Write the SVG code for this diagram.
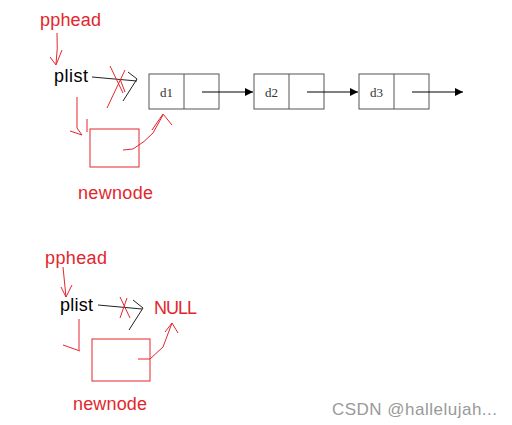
<svg xmlns="http://www.w3.org/2000/svg" width="512" height="425" viewBox="0 0 512 425">
<defs>
<marker id="ah" viewBox="0 0 10 10" refX="10" refY="5" markerWidth="10" markerHeight="8" markerUnits="userSpaceOnUse" orient="auto"><path d="M0,0 L10,5 L0,10 z" fill="#000"/></marker>
</defs>
<style>
.red{font-family:"Liberation Sans",Arial,sans-serif;font-size:18px;fill:#e3262d}
.blk{font-family:"Liberation Sans",Arial,sans-serif;font-size:18px;fill:#000}
.d{font-family:"Liberation Serif","DejaVu Serif",serif;font-size:13px;fill:#333}
.box{fill:#fff;stroke:#555;stroke-width:1}
.rl{fill:none;stroke:#e3262d;stroke-width:1}
.bl{fill:none;stroke:#222;stroke-width:1}
.wm{font-family:"Liberation Sans",Arial,sans-serif;font-size:17px;fill:#999}
</style>
<rect width="512" height="425" fill="#fff"/>
<g id="pphead1"><text class="red" x="40" y="26" textLength="61">pphead</text></g>
<g id="plist1"><text class="blk" x="54" y="82" textLength="34">plist</text></g>
<g id="newnode1"><rect class="rl" x="90" y="129" width="49" height="38"/><text class="red" x="78" y="199" textLength="75">newnode</text></g>
<g id="d1"><rect class="box" x="149" y="74" width="70" height="35"/><line class="box" x1="184" y1="74" x2="184" y2="109"/><text class="d" x="160" y="97">d1</text></g>
<g id="d2"><rect class="box" x="254" y="74" width="70" height="35"/><line class="box" x1="289" y1="74" x2="289" y2="109"/><text class="d" x="265" y="97">d2</text></g>
<g id="d3"><rect class="box" x="359" y="74" width="70" height="35"/><line class="box" x1="394" y1="74" x2="394" y2="109"/><text class="d" x="370" y="97">d3</text></g>
<g id="pphead2"><text class="red" x="45" y="264" textLength="62">pphead</text></g>
<g id="plist2"><text class="blk" x="60" y="311" textLength="33">plist</text></g>
<g id="null"><text class="red" x="154" y="314" textLength="43">NULL</text></g>
<g id="newnode2"><rect class="rl" x="92" y="339" width="58" height="42"/><text class="red" x="73" y="410" textLength="74">newnode</text></g>
<g id="connectors">
<line x1="202" y1="92" x2="253" y2="92" stroke="#000" marker-end="url(#ah)"/>
<line x1="307" y1="92" x2="358" y2="92" stroke="#000" marker-end="url(#ah)"/>
<line x1="412" y1="92" x2="463" y2="92" stroke="#000" marker-end="url(#ah)"/>
<path class="rl" d="M57,33 Q58,48 56,64 M50,57 L56,65 L62,50"/>
<path class="bl" d="M92,77 L137,81 M128,72 L137,79 L123,101"/>
<path class="rl" d="M110,66 L123,93 M125,70 L107,108 M120,79 L125,92"/>
<path class="rl" d="M77,97 L77,128 L82,135 M70,131 L82,135 M87,119 L87,132"/>
<path class="rl" d="M123,150 L133,149 Q145,142 153,133 L163,115 M152,130 L163,114 L172,125"/>
<path class="rl" d="M63,267 L66,297 M61,287 L66,297 L72,285"/>
<path class="bl" d="M98,305 L142,309 M133,300 L143,308 L129,330"/>
<path class="rl" d="M120,297 L130,318 M127,298 L120,318"/>
<path class="rl" d="M79,319 L79,350 M63,345 L80,351"/>
<path class="rl" d="M138,359 L150,359 L163,347 L172,323 M165,332 L172,323 L178,333"/>
</g>
<text class="wm" x="332" y="415" textLength="165">CSDN @hallelujah...</text>
</svg>
